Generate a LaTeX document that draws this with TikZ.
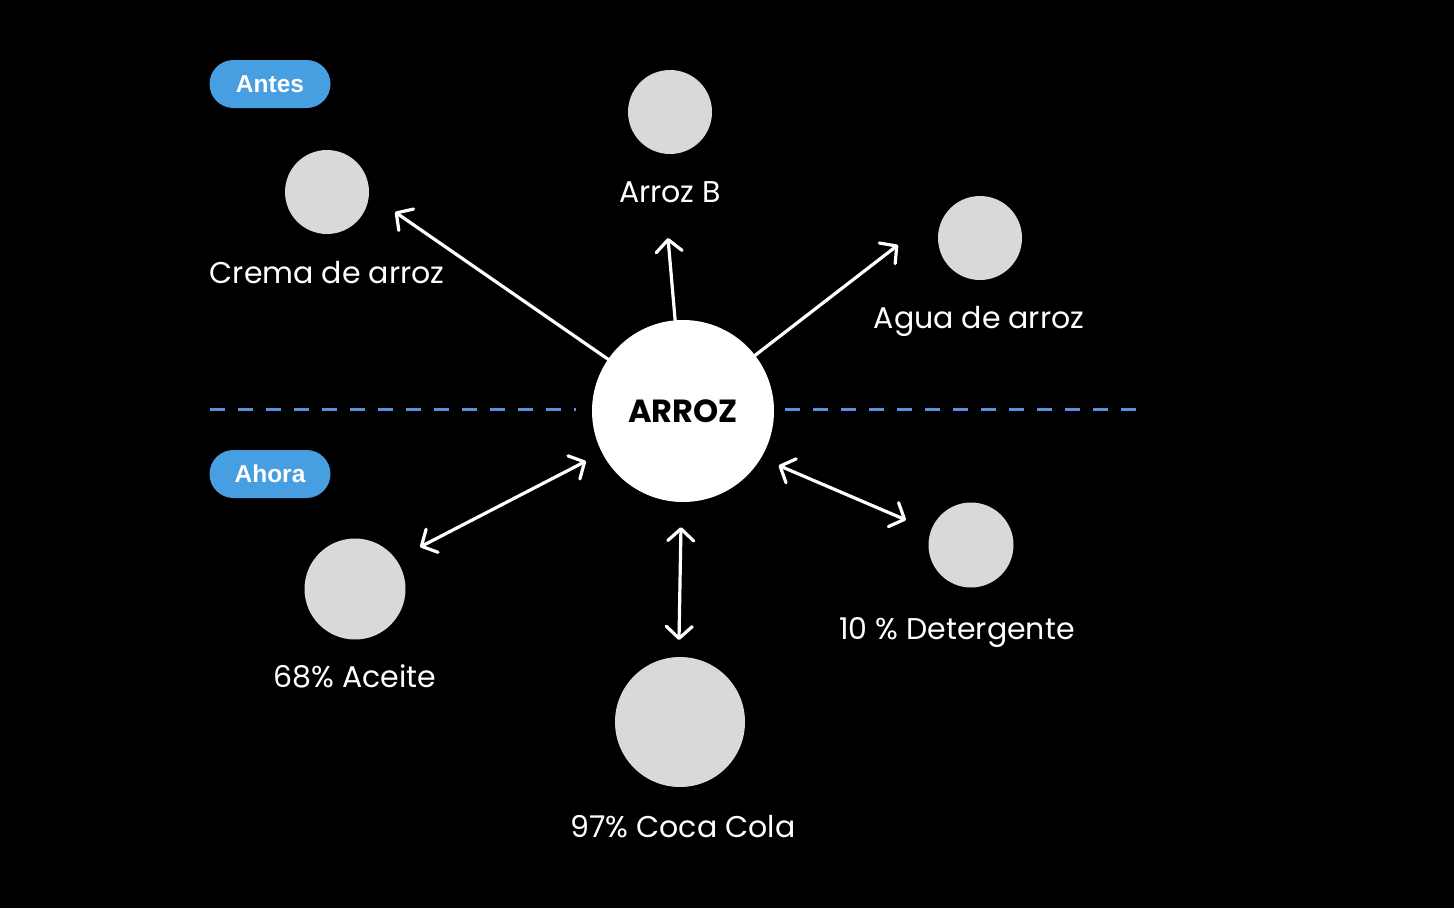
\documentclass[tikz,border=0pt]{standalone}
\usepackage{fontspec}
\setmainfont{Poppins}
\newfontfamily\pillfont{Liberation Sans}
\usetikzlibrary{positioning, arrows.meta}
\definecolor{pillblue}{HTML}{479FE1}
\definecolor{dashblue}{HTML}{5B8FDC}
\definecolor{dotgray}{HTML}{D9D9D9}
\tikzset{barb/.tip={Straight Barb[length=12pt, width=26pt, round]}}

\begin{document}
\begin{tikzpicture}[x=1pt, y=-1pt,
        dot/.style={circle, fill=dotgray, inner sep=0pt},
        lbl/.style={text=white, anchor=base, inner sep=0pt, font=\fontsize{30}{35}\selectfont},
        pill/.style={rounded corners=24pt, fill=pillblue, text=white, minimum width=121pt,
            minimum height=48pt, inner sep=0pt, font=\pillfont\bfseries\fontsize{24.5}{28}\selectfont},
        link/.style={draw=white, line width=3.2pt, line cap=round, -barb},
        twoway/.style={link, barb-barb},
        divider/.style={dashblue, line width=3pt, dash pattern=on 15pt off 13pt}
    ]
    \fill[black] (0,0) rectangle (1454,908);
    \useasboundingbox (0,0) rectangle (1454,908);

    % dashed divider
    \draw[divider] (210,409) -- (576,409);
    \draw[divider] (785,409) -- (1148,409);

    % tags
    \node[pill] (antes) at (270,84) {Antes};
    \node[pill] (ahora) at (270,474) {Ahora};

    % centre
    \node[circle, fill=white, minimum size=182pt, inner sep=0pt,
        font=\bfseries\fontsize{32}{38}\selectfont] (arroz) at (683,411) {ARROZ};

    % before
    \node[dot, minimum size=84pt] (crema) at (327,192) {};
    \node[lbl] (cremaText) at (327,283) {Crema de arroz};
    \node[dot, minimum size=84pt] (arrozB) at (670,112) {};
    \node[lbl] (arrozBText) at (670,202) {Arroz B};
    \node[dot, minimum size=84pt] (agua) at (980,238) {};
    \node[lbl] (aguaText) at (979,328) {Agua de arroz};

    % now
    \node[dot, minimum size=101pt] (aceite) at (355,589) {};
    \node[lbl] (aceiteText) at (355,687) {68\% Aceite};
    \node[dot, minimum size=130pt] (coca) at (680,722) {};
    \node[lbl] (cocaText) at (683,837) {97\% Coca Cola};
    \node[dot, minimum size=85pt] (detergente) at (971,545) {};
    \node[lbl] (detergenteText) at (957,639) {10 \% Detergente};

    % arrow ends
    \coordinate (cremaTip) at (395,212);
    \coordinate (arrozBTip) at (668,238);
    \coordinate (aguaTip) at (898,245);
    \coordinate (aceiteTip) at (420,547);
    \coordinate (cocaTip) at (679,640);
    \coordinate (detergenteTip) at (906,520);

    \draw[link] (arroz) -- (cremaTip);
    \draw[link] (arroz) -- (arrozBTip);
    \draw[link] (arroz) -- (aguaTip);
    \draw[twoway, shorten <=18pt] (arroz) -- (aceiteTip);
    \draw[twoway, shorten <=25pt] (arroz) -- (cocaTip);
    \draw[twoway, shorten <=19pt] (arroz.-31) -- (detergenteTip);
\end{tikzpicture}
\end{document}
